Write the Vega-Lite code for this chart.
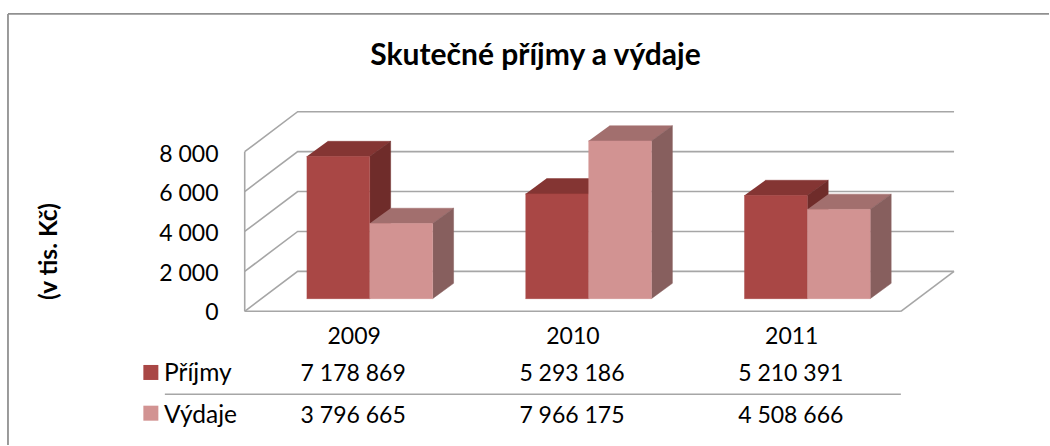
{
"$schema":"https://vega.github.io/schema/vega-lite/v6.json",
"autosize":{"type":"fit","contains":"padding"},
"width":1050,"height":446,"padding":0,
"background":"white",
"config":{"view":{"stroke":null},"font":"Lato","locale":{"number":{"decimal":",","thousands":" ","grouping":[3],"currency":["","Kč"]}}},
"title":{"text":"Skutečné příjmy a výdaje","font":"Lato","fontSize":30,"fontWeight":"bold","color":"#000000","anchor":"middle","dx":11,"offset":-71},
"datasets":{
"rows":[
{"year":2009,"series":"Příjmy","value":7178869},
{"year":2009,"series":"Výdaje","value":3796665},
{"year":2010,"series":"Příjmy","value":5293186},
{"year":2010,"series":"Výdaje","value":7966175},
{"year":2011,"series":"Příjmy","value":5210391},
{"year":2011,"series":"Výdaje","value":4508666}
],
"ticks":[{"v":0},{"v":2000},{"v":4000},{"v":6000},{"v":8000}]
},
"layer":[
{"data":{"name":"ticks"},
 "transform":[
  {"calculate":"[0,1,2]","as":"corner"},{"flatten":["corner"]},
  {"calculate":"[2008.429,2008.671,2011.671][datum.corner]","as":"px"},
  {"calculate":"-640+1.0086*datum.v+(datum.corner>0?2017:0)","as":"py"}
 ],
 "mark":{"type":"line","stroke":"#a6a6a6","strokeWidth":1.6,"interpolate":"linear"},
 "encoding":{
  "x":{"field":"px","type":"quantitative","scale":{"domain":[2007.3105,2012.105],"nice":false,"zero":false},
   "axis":{"values":[2009,2010,2011],"format":"d","title":null,"orient":"bottom","offset":-120,"domain":false,"ticks":false,"grid":false,"labelPadding":0,"labelOffset":-16,"labelFontSize":23,"labelFont":"Lato","labelColor":"#000000"}},
  "y":{"field":"py","type":"quantitative","scale":{"domain":[-7398,15093],"nice":false,"zero":false},
   "axis":{"values":[0,2000,4000,6000,8000],"format":",d","orient":"left","offset":-218,"domain":false,"ticks":false,"grid":false,"labelPadding":0,"labelOffset":14,"labelFontSize":23,"labelFont":"Lato","labelColor":"#000000",
    "title":"(v tis. Kč)","titleFont":"Lato","titleFontSize":24.5,"titleFontWeight":"bold","titleColor":"#000000","titlePadding":97,"titleY":251,"titleAngle":-90}},
  "detail":{"field":"v"},
  "order":{"field":"corner","type":"quantitative"}
 }},
{"mark":{"type":"rule","stroke":"#a6a6a6","strokeWidth":1.6},"data":{"values":[{}]},"encoding":{"x":{"datum":2008.429},"y":{"datum":-640},"y2":{"datum":7429}}},
{"mark":{"type":"rule","stroke":"#a6a6a6","strokeWidth":1.6},"data":{"values":[{}]},"encoding":{"x":{"datum":2008.429},"x2":{"datum":2011.428},"y":{"datum":-640},"y2":{"datum":-640}}},
{"mark":{"type":"rule","stroke":"#a6a6a6","strokeWidth":1.6},"data":{"values":[{}]},"encoding":{"x":{"datum":2011.428},"x2":{"datum":2011.671},"y":{"datum":-640},"y2":{"datum":1377}}},
{"mark":{"type":"rule","stroke":"#a6a6a6","strokeWidth":1.6},"data":{"values":[{}]},"encoding":{"x":{"datum":2008.064},"x2":{"datum":2011.428},"y":{"datum":-4830},"y2":{"datum":-4830}}},
{"mark":{"type":"rule","stroke":"#909090","strokeWidth":1.8},"data":{"values":[{}]},"encoding":{"x":{"datum":2007.347},"x2":{"datum":2012.105},"y":{"datum":14387},"y2":{"datum":14387}}},
{"mark":{"type":"rule","stroke":"#909090","strokeWidth":1.8},"data":{"values":[{}]},"encoding":{"x":{"datum":2007.347},"y":{"datum":-7398},"y2":{"datum":14387}}},
{"data":{"name":"rows"},
 "transform":[
  {"calculate":"datum.value/1000","as":"h"},
  {"calculate":"datum.series=='Příjmy'?datum.year-0.2877:datum.year","as":"x0"},
  {"calculate":"datum.x0+0.2877","as":"x1"},
  {"calculate":"['top','side','front']","as":"face"},{"flatten":["face"]},
  {"calculate":"[0,1,2,3]","as":"corner"},{"flatten":["corner"]},
  {"calculate":"datum.face=='front'?[datum.x0,datum.x1,datum.x1,datum.x0][datum.corner]:datum.face=='top'?[datum.x0,datum.x1,datum.x1+0.0959,datum.x0+0.0959][datum.corner]:[datum.x1,datum.x1+0.0959,datum.x1+0.0959,datum.x1][datum.corner]","as":"px"},
  {"calculate":"datum.face=='front'?[0,0,datum.h,datum.h][datum.corner]:datum.face=='top'?[datum.h,datum.h,datum.h+772,datum.h+772][datum.corner]:[0,772,datum.h+772,datum.h][datum.corner]","as":"py"},
  {"calculate":"datum.series+'|'+datum.face","as":"key"}
 ],
 "mark":{"type":"line","strokeWidth":0.5,"interpolate":"linear"},
 "encoding":{
  "x":{"field":"px","type":"quantitative"},
  "y":{"field":"py","type":"quantitative"},
  "fill":{"field":"key","type":"nominal","legend":null,"scale":{"domain":["Příjmy|front","Příjmy|top","Příjmy|side","Výdaje|front","Výdaje|top","Výdaje|side"],"range":["#a94745","#843533","#6f2c2a","#d29392","#a26f6e","#875f5e"]}},
  "stroke":{"field":"key","type":"nominal","legend":null,"scale":{"domain":["Příjmy|front","Příjmy|top","Příjmy|side","Výdaje|front","Výdaje|top","Výdaje|side"],"range":["#a94745","#843533","#6f2c2a","#d29392","#a26f6e","#875f5e"]}},
  "detail":{"field":"year"},
  "order":{"field":"corner","type":"quantitative"}
 }},
{"data":{"name":"rows"},
 "transform":[{"calculate":"datum.series=='Příjmy'?-3820:-5925","as":"row"},{"calculate":"datum.year-0.0753","as":"col"}],
 "mark":{"type":"text","fontSize":23,"font":"Lato","color":"#000000","align":"center","baseline":"middle"},
 "encoding":{
  "x":{"field":"col","type":"quantitative"},
  "y":{"field":"row","type":"quantitative"},
  "text":{"field":"value","type":"quantitative","format":",d"}
 }},
{"data":{"name":"rows"},
 "transform":[{"filter":"datum.year==2009"},{"calculate":"datum.series=='Příjmy'?-3820:-5925","as":"row"}],
 "mark":{"type":"text","fontSize":24.5,"font":"Lato","color":"#000000","align":"left","baseline":"middle"},
 "encoding":{
  "x":{"datum":2008.06},
  "y":{"field":"row","type":"quantitative"},
  "text":{"field":"series"}
 }},
{"data":{"name":"rows"},
 "transform":[{"filter":"datum.year==2009"},{"calculate":"datum.series=='Příjmy'?-3732:-5790","as":"row"},{"calculate":"datum.series+'|front'","as":"key"}],
 "mark":{"type":"square","size":225,"opacity":1,"filled":true},
 "encoding":{
  "x":{"datum":2008.0},
  "y":{"field":"row","type":"quantitative"},
  "fill":{"field":"key","type":"nominal","legend":null}
 }}
]
}
